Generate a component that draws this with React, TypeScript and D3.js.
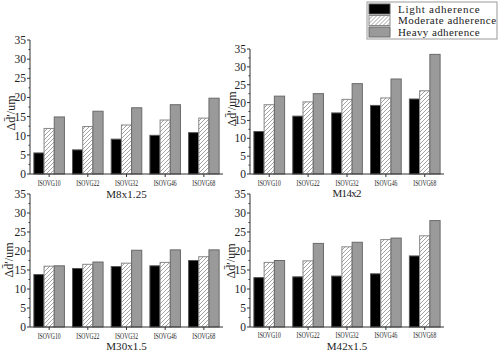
import * as d3 from "d3";

const CATEGORIES = ["ISOVG10", "ISOVG22", "ISOVG32", "ISOVG46", "ISOVG68"];
const SERIES = ["Light adherence", "Moderate adherence", "Heavy adherence"];
const Y_TICKS = [0, 5, 10, 15, 20, 25, 30, 35];

// values, one array per series per thread size
const M8_LIGHT = [5.5, 6.3, 9.1, 10.1, 10.8];
const M8_MODERATE = [11.9, 12.4, 12.8, 14.1, 14.6];
const M8_HEAVY = [14.9, 16.4, 17.3, 18.1, 19.8];

const M14_LIGHT = [11.9, 16.2, 17.1, 19.2, 21.0];
const M14_MODERATE = [19.4, 20.2, 20.9, 21.3, 23.3];
const M14_HEAVY = [21.8, 22.5, 25.3, 26.6, 33.5];

const M30_LIGHT = [13.8, 15.4, 15.9, 16.1, 17.5];
const M30_MODERATE = [16.0, 16.5, 16.8, 17.0, 18.5];
const M30_HEAVY = [16.1, 17.1, 20.2, 20.3, 20.3];

const M42_LIGHT = [13.0, 13.2, 13.4, 14.0, 18.7];
const M42_MODERATE = [17.0, 17.4, 21.1, 23.0, 24.0];
const M42_HEAVY = [17.5, 22.0, 22.3, 23.4, 28.0];

const FILLS = ["#000000", "url(#hatch)", "#9a9a9a"];
const STROKES = ["#555", "#888", "#6a6a6a"];

interface Panel {
  title: string;
  values: number[][];
  x0: number;
  x1: number;
  yTop: number;
  yBottom: number;
  catY: number;
  titleY: number;
  labelX: number;
  labelY: number;
}

const PANELS: Panel[] = [
  { title: "M8x1.25", values: [M8_LIGHT, M8_MODERATE, M8_HEAVY], x0: 30, x1: 223, yTop: 40, yBottom: 174, catY: 186, titleY: 198, labelX: 15, labelY: 113 },
  { title: "M14x2", values: [M14_LIGHT, M14_MODERATE, M14_HEAVY], x0: 250, x1: 444, yTop: 49, yBottom: 174, catY: 186, titleY: 197, labelX: 236, labelY: 109 },
  { title: "M30x1.5", values: [M30_LIGHT, M30_MODERATE, M30_HEAVY], x0: 30, x1: 223, yTop: 194, yBottom: 327, catY: 339, titleY: 350, labelX: 13, labelY: 260 },
  { title: "M42x1.5", values: [M42_LIGHT, M42_MODERATE, M42_HEAVY], x0: 250, x1: 444, yTop: 194, yBottom: 327, catY: 338, titleY: 350, labelX: 235, labelY: 261 },
];

const AXIS = "#333";
const SERIF = "Liberation Serif";

function BarPanel({ p }: { p: Panel }) {
  const x = d3.scaleBand<string>().domain(CATEGORIES).range([p.x0, p.x1]).paddingInner(0.21).paddingOuter(0.1);
  const sub = d3.scaleBand<number>().domain([0, 1, 2]).range([0, x.bandwidth()]);
  const y = d3.scaleLinear().domain([0, 35]).range([p.yBottom, p.yTop]);
  const minor = d3.range(2.5, 35, 5);
  const cx = (p.x0 + p.x1) / 2;

  return (
    <g>
      {CATEGORIES.map((c, i) =>
        p.values.map((vals, s) => (
          <rect
            key={`${c}-${s}`}
            x={(x(c) ?? 0) + sub(s)!}
            y={y(vals[i])}
            width={sub.bandwidth()}
            height={y(0) - y(vals[i])}
            fill={FILLS[s]}
            stroke={STROKES[s]}
            strokeWidth={1}
          />
        )),
      )}
      <line x1={p.x0} x2={p.x0} y1={p.yTop} y2={p.yBottom} stroke={AXIS} />
      <line x1={p.x0} x2={p.x1} y1={p.yBottom} y2={p.yBottom} stroke={AXIS} />
      {Y_TICKS.map((t) => (
        <g key={t}>
          <line x1={p.x0 - 3} x2={p.x0} y1={y(t)} y2={y(t)} stroke={AXIS} />
          <text x={p.x0 - 4} y={y(t)} dy="0.35em" textAnchor="end" fontSize={11.5} fontFamily={SERIF} fill="#222">
            {t}
          </text>
        </g>
      ))}
      {minor.map((t) => (
        <line key={t} x1={p.x0 - 1.5} x2={p.x0} y1={y(t)} y2={y(t)} stroke={AXIS} />
      ))}
      {CATEGORIES.map((c) => {
        const mx = (x(c) ?? 0) + x.bandwidth() / 2;
        return (
          <g key={c}>
            <line x1={mx} x2={mx} y1={p.yBottom} y2={p.yBottom + 3} stroke={AXIS} />
            <text x={mx} y={p.catY} textAnchor="middle" fontSize={8.5} fontFamily={SERIF} textLength={23} lengthAdjust="spacingAndGlyphs" fill="#222">
              {c}
            </text>
          </g>
        );
      })}
      <text x={cx} y={p.titleY} textAnchor="middle" fontSize={11} fontFamily={SERIF} textLength={p.title.length * 5.8} lengthAdjust="spacing" fill="#222">
        {p.title}
      </text>
      <text
        transform={`translate(${p.labelX},${p.labelY}) rotate(-90)`}
        textAnchor="middle"
        fontSize={12}
        fontFamily={SERIF}
        fill="#222"
      >
        {"Δd\u0304\u2032/um"}
      </text>
    </g>
  );
}

function Legend() {
  const lx = 367;
  const ly = 2;
  return (
    <g>
      <rect x={lx} y={ly} width={130} height={37} fill="#fff" stroke="#999" />
      {SERIES.map((s, i) => (
        <g key={s} transform={`translate(${lx + 2},${ly + 2 + i * 11.5})`}>
          <rect width={21} height={10} fill={FILLS[i]} stroke={STROKES[i]} />
          <text x={29} y={5} dy="0.35em" fontSize={11} fontFamily={SERIF} textLength={s.length * 5.45} lengthAdjust="spacing" fill="#222">
            {s}
          </text>
        </g>
      ))}
    </g>
  );
}

export default function App() {
  return (
    <svg
      width={500}
      height={353}
      viewBox="0 0 500 353"
      style={{ position: "absolute", left: 0, top: 0, background: "#fff" }}
    >
      <defs>
        <pattern id="hatch" patternUnits="userSpaceOnUse" width={4} height={4}>
          <rect width={4} height={4} fill="#fff" />
          <path d="M0,4 L4,0 M-1,1 L1,-1 M3,5 L5,3" stroke="#999" strokeWidth={0.9} />
        </pattern>
      </defs>
      {PANELS.map((p) => (
        <BarPanel key={p.title} p={p} />
      ))}
      <Legend />
    </svg>
  );
}
